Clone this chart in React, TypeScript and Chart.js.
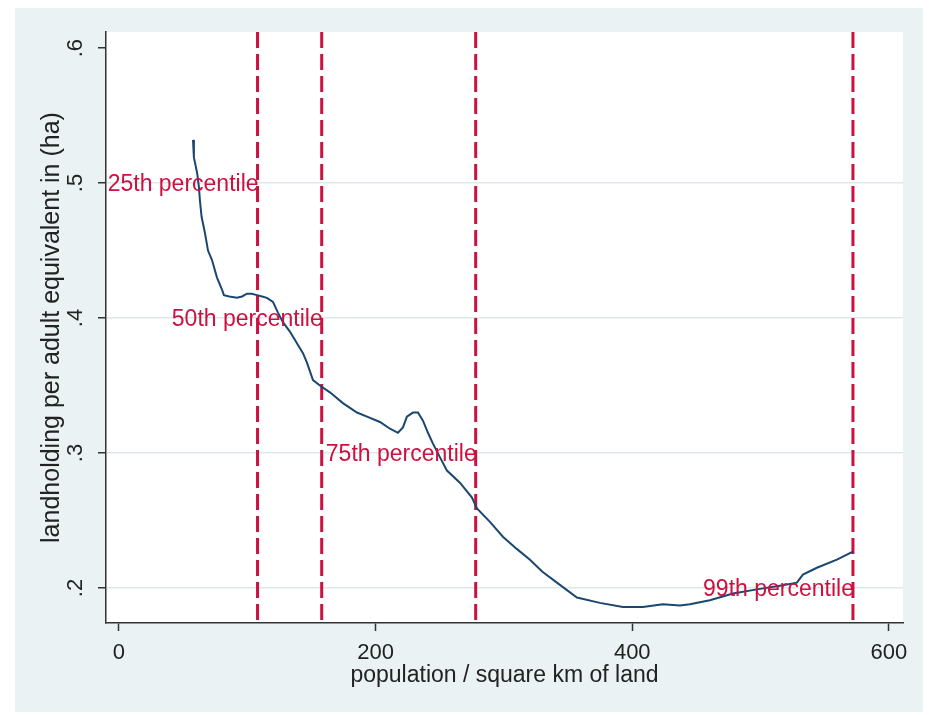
import { useEffect, useRef } from "react";
import { Chart, registerables } from "chart.js";

Chart.register(...registerables);

// Smoothed curve: population density vs landholding per adult equivalent
const curveX = [
  57.7, 58.4, 61.0, 62.3, 63.1, 64.4, 67.0, 69.4, 72.5, 76.4, 80.3, 81.8, 86.0, 92.0, 96.0, 99.7,
  103.5, 107.5, 111.5, 115.3, 120.0, 123.9, 127.8, 133.2, 139.5, 143.4, 146.5, 151.2, 156.6, 164.4,
  174.5, 185.5, 193.3, 203.4, 211.2, 217.4, 221.3, 224.4, 229.1, 233.0, 236.9, 240.8, 244.7, 250.1,
  255.6, 265.7, 275.1, 279.0, 289.1, 299.2, 310.0, 320.3, 330.0, 341.3, 356.9, 374.8, 392.7, 408.3,
  423.9, 437.2, 444.9, 460.5, 478.5, 497.2, 517.4, 528.3, 533.0, 543.9, 559.5, 572.0,
];
const curveY = [
  0.532, 0.519, 0.507, 0.497, 0.487, 0.475, 0.463, 0.45, 0.443, 0.43, 0.421, 0.417, 0.416, 0.415,
  0.416, 0.418, 0.418, 0.417, 0.416, 0.415, 0.412, 0.404, 0.397, 0.39, 0.38, 0.374, 0.367, 0.354,
  0.35, 0.345, 0.337, 0.33, 0.327, 0.323, 0.318, 0.315, 0.319, 0.327, 0.33, 0.33, 0.324, 0.315,
  0.307, 0.297, 0.287, 0.278, 0.267, 0.259, 0.249, 0.238, 0.229, 0.221, 0.212, 0.204, 0.193, 0.189,
  0.186, 0.186, 0.188, 0.187, 0.188, 0.191, 0.196, 0.199, 0.202, 0.204, 0.21, 0.215, 0.221, 0.227,
];

// Percentile reference lines
const percentileX = [108, 158, 278, 572];
const percentileNames = ["25th percentile", "50th percentile", "75th percentile", "99th percentile"];
const percentileLabelY = [0.5, 0.4, 0.3, 0.2];

// Axis ticks
const xTicks = [0, 200, 400, 600];
const yTicks = [0.2, 0.3, 0.4, 0.5, 0.6];

const X_MIN = -10.1;
const X_MAX = 611;
const Y_MIN = 0.1741;
const Y_MAX = 0.6119;

const FONT = '"Liberation Sans", Arial, Helvetica, sans-serif';
const RED = "#cc1040";
const NAVY = "#1a476f";
const AXIS = "#333333";
const TEXT = "#222222";

const backgroundPlugin = {
  id: "stataBackground",
  beforeDraw(chart: any) {
    const { ctx, chartArea } = chart;
    ctx.save();
    ctx.fillStyle = "#ffffff";
    ctx.fillRect(0, 0, chart.width, chart.height);
    ctx.fillStyle = "#eaf2f3";
    ctx.fillRect(15, 8, 908, 704);
    ctx.fillStyle = "#ffffff";
    ctx.fillRect(chartArea.left, chartArea.top, chartArea.right - chartArea.left, chartArea.bottom - chartArea.top);
    ctx.restore();
  },
};

const labelPlugin = {
  id: "percentileLabels",
  afterDatasetsDraw(chart: any) {
    const { ctx } = chart;
    const xs = chart.scales.x;
    const ys = chart.scales.y;
    ctx.save();
    ctx.font = `23px ${FONT}`;
    ctx.fillStyle = RED;
    ctx.textAlign = "right";
    ctx.textBaseline = "middle";
    percentileNames.forEach((name, i) => {
      const px = xs.getPixelForValue(percentileX[i]);
      const py = ys.getPixelForValue(percentileLabelY[i]);
      ctx.fillText(name, px + 1, py + 2);
    });
    ctx.restore();
  },
};

export default function App() {
  const canvasRef = useRef<HTMLCanvasElement | null>(null);

  useEffect(() => {
    if (!canvasRef.current) return;
    const curveData = curveX.map((x, i) => ({ x, y: curveY[i] }));
    const lineSets = percentileX.map((p) => ({
      data: [
        { x: p, y: Y_MAX },
        { x: p, y: Y_MIN },
      ],
      showLine: true,
      borderColor: RED,
      borderWidth: 3,
      borderDash: [16, 6],
      pointRadius: 0,
      fill: false,
    }));

    const chart = new Chart(canvasRef.current, {
      type: "scatter",
      data: {
        datasets: [
          {
            data: curveData,
            showLine: true,
            borderColor: NAVY,
            borderWidth: 2,
            pointRadius: 0,
            tension: 0,
            fill: false,
          },
          ...lineSets,
        ],
      },
      options: {
        animation: false,
        responsive: false,
        devicePixelRatio: 1,
        layout: { padding: { left: 0, top: 32, right: 29, bottom: 0 } },
        plugins: {
          legend: { display: false },
          tooltip: { enabled: false },
        },
        scales: {
          x: {
            type: "linear",
            min: X_MIN,
            max: X_MAX,
            afterBuildTicks: (s: any) => {
              s.ticks = xTicks.map((v) => ({ value: v }));
            },
            afterFit: (s: any) => {
              s.height = 92;
            },
            ticks: {
              font: { family: FONT, size: 22 },
              color: TEXT,
              padding: 9,
              maxRotation: 0,
              minRotation: 0,
              autoSkip: false,
              callback: (v: any) => String(v),
            },
            grid: {
              drawOnChartArea: false,
              drawTicks: true,
              tickLength: 8,
              tickColor: AXIS,
              tickWidth: 1.5,
            },
            border: { display: true, color: AXIS, width: 1.5 },
            title: {
              display: true,
              text: "population / square km of land",
              font: { family: FONT, size: 23 },
              color: TEXT,
              padding: { top: 0, bottom: 26 },
            },
          },
          y: {
            type: "linear",
            min: Y_MIN,
            max: Y_MAX,
            afterBuildTicks: (s: any) => {
              s.ticks = yTicks.map((v) => ({ value: v }));
            },
            afterFit: (s: any) => {
              s.width = 106;
            },
            ticks: {
              font: { family: FONT, size: 22 },
              color: TEXT,
              padding: 13,
              minRotation: 90,
              maxRotation: 90,
              crossAlign: "center",
              autoSkip: false,
              callback: (v: any) => Number(v).toFixed(1).replace(/^0/, ""),
            },
            grid: {
              drawOnChartArea: true,
              drawTicks: true,
              tickLength: 8,
              color: (c: any) => (c.tick && c.tick.value >= 0.59 ? "rgba(0,0,0,0)" : "#dde8ea"),
              lineWidth: 1.5,
              tickColor: AXIS,
              tickWidth: 1.5,
            },
            border: { display: true, color: AXIS, width: 1.5 },
            title: {
              display: true,
              text: "landholding per adult equivalent in (ha)",
              font: { family: FONT, size: 25 },
              color: TEXT,
              padding: { top: 37, bottom: 0 },
            },
          },
        },
      },
      plugins: [backgroundPlugin, labelPlugin],
    } as any);

    return () => chart.destroy();
  }, []);

  return (
    <div style={{ position: "absolute", left: 0, top: 0, width: 932, height: 715 }}>
      <canvas ref={canvasRef} width={932} height={715} style={{ display: "block", width: 932, height: 715 }} />
    </div>
  );
}
